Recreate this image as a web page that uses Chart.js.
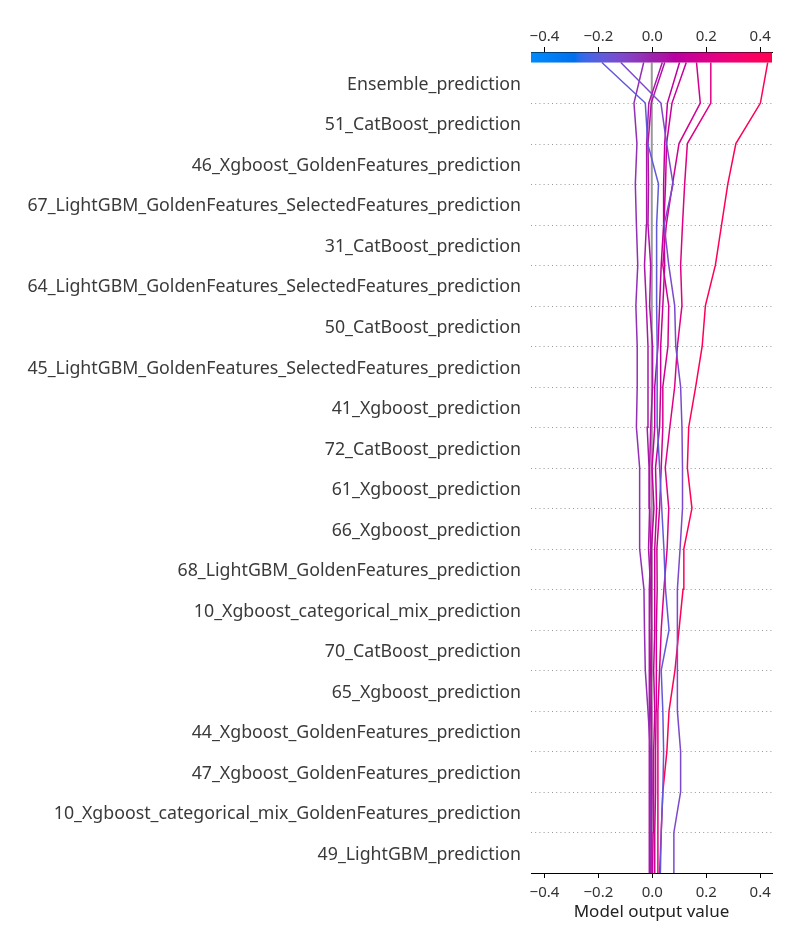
<!DOCTYPE html>
<html>
<head>
<meta charset="utf-8">
<script src="https://cdn.jsdelivr.net/npm/chart.js@4/dist/chart.umd.min.js"></script>
<style>
  html, body { margin: 0; padding: 0; background: #ffffff; }
  canvas { display: block; }
</style>
</head>
<body>
<canvas id="c" width="800" height="950"></canvas>
<script>
// Feature names, top to bottom
const featureNames = [
  'Ensemble_prediction',
  '51_CatBoost_prediction',
  '46_Xgboost_GoldenFeatures_prediction',
  '67_LightGBM_GoldenFeatures_SelectedFeatures_prediction',
  '31_CatBoost_prediction',
  '64_LightGBM_GoldenFeatures_SelectedFeatures_prediction',
  '50_CatBoost_prediction',
  '45_LightGBM_GoldenFeatures_SelectedFeatures_prediction',
  '41_Xgboost_prediction',
  '72_CatBoost_prediction',
  '61_Xgboost_prediction',
  '66_Xgboost_prediction',
  '68_LightGBM_GoldenFeatures_prediction',
  '10_Xgboost_categorical_mix_prediction',
  '70_CatBoost_prediction',
  '65_Xgboost_prediction',
  '44_Xgboost_GoldenFeatures_prediction',
  '47_Xgboost_GoldenFeatures_prediction',
  '10_Xgboost_categorical_mix_GoldenFeatures_prediction',
  '49_LightGBM_prediction'
];

// Cumulative model output per observation, from the bottom level (0) to the top level (20)
const obsA = [0.030,0.033,0.039,0.042,0.039,0.033,0.062,0.049,0.043,0.035,0.027,0.019,0.018,0.018,0.016,0.016,0.016,0.023,-0.017,-0.026,-0.187];
const obsB = [0.077,0.080,0.105,0.105,0.093,0.093,0.093,0.093,0.103,0.112,0.112,0.110,0.105,0.087,0.083,0.061,0.044,0.077,0.053,0.032,-0.117];
const obsC = [-0.004,-0.007,-0.007,-0.007,-0.016,-0.026,-0.029,-0.031,-0.047,-0.047,-0.047,-0.059,-0.056,-0.056,-0.061,-0.054,-0.059,-0.063,-0.057,-0.068,-0.032];
const obsD = [-0.004,-0.003,-0.001,-0.003,-0.006,-0.003,-0.003,-0.006,-0.014,-0.010,-0.012,-0.019,-0.016,-0.016,-0.022,-0.029,-0.022,-0.021,-0.021,-0.013,0.037];
const obsE = [-0.010,-0.010,-0.012,-0.012,-0.010,-0.012,-0.010,-0.012,-0.006,-0.010,-0.010,-0.006,0.001,0.001,-0.010,-0.006,-0.016,-0.014,-0.016,-0.004,0.046];
const obsF = [-0.006,-0.006,-0.004,-0.003,-0.003,-0.006,-0.004,-0.003,-0.003,0.006,-0.001,0.009,0.009,0.021,0.027,0.033,0.042,0.042,0.046,0.056,0.101];
const obsG = [0.001,0.003,0.005,0.005,0.009,0.005,0.009,0.009,0.009,0.016,0.012,0.027,0.031,0.031,0.039,0.046,0.043,0.049,0.053,0.073,0.126];
const obsH = [0.009,0.009,0.012,0.012,0.014,0.016,0.014,0.018,0.017,0.027,0.033,0.039,0.039,0.058,0.061,0.039,0.052,0.075,0.099,0.178,0.164];
const obsI = [0.020,0.020,0.021,0.021,0.021,0.027,0.033,0.043,0.055,0.061,0.048,0.065,0.083,0.093,0.110,0.105,0.112,0.120,0.130,0.217,0.217];
const obsJ = [0.027,0.033,0.039,0.054,0.062,0.084,0.099,0.114,0.117,0.147,0.130,0.135,0.161,0.185,0.197,0.234,0.257,0.280,0.310,0.401,0.428];
const observations = [obsA, obsB, obsC, obsD, obsE, obsF, obsG, obsH, obsI, obsJ];

const baseValue = -0.002;
const xTicks = [-0.4, -0.2, 0.0, 0.2, 0.4];
const xMin = -0.45, xMax = 0.444;
const yMax = 20.26; // extra room above the last level for the colour bar

// SHAP "red_blue" colormap built in LCH space
function lch2rgb(L, C, H) {
  const a = C * Math.cos(H), b = C * Math.sin(H);
  const fy = (L + 16) / 116, fx = a / 500 + fy, fz = fy - b / 200;
  const f = t => (t > 0.2068966 ? t * t * t : (t - 16 / 116) / 7.787);
  const X = 0.95047 * f(fx), Y = 1.0 * f(fy), Z = 1.08883 * f(fz);
  let r = 3.2404542 * X - 1.5371385 * Y - 0.4985314 * Z;
  let g = -0.9692660 * X + 1.8760108 * Y + 0.0415560 * Z;
  let bb = 0.0556434 * X - 0.2040259 * Y + 1.0572252 * Z;
  const gam = c => (c > 0.0031308 ? 1.055 * Math.pow(c, 1 / 2.4) - 0.055 : 12.92 * c);
  return [r, g, bb].map(c => Math.min(1, Math.max(0, gam(c))));
}
const cmap = (() => {
  const n = 100, out = [];
  const blue = [54, 70, 4.6588], red = [54, 90, 0.35470565 + 2 * Math.PI], lMid = 40;
  for (let i = 0; i < n; i++) {
    const half = n / 2;
    const l = i < half ? blue[0] + (lMid - blue[0]) * (i / (half - 1))
                       : lMid + (red[0] - lMid) * ((i - half) / (half - 1));
    const c = blue[1] + (red[1] - blue[1]) * (i / (n - 1));
    const h = blue[2] + (red[2] - blue[2]) * (i / (n - 1));
    out.push(lch2rgb(l, c, h));
  }
  return out;
})();
function cmapColor(t) {
  t = Math.min(1, Math.max(0, t));
  const p = t * (cmap.length - 1), i = Math.floor(p), fr = p - i;
  const a = cmap[i], b = cmap[Math.min(cmap.length - 1, i + 1)];
  const c = a.map((v, k) => Math.round(255 * (v + (b[k] - v) * fr)));
  return `rgb(${c[0]},${c[1]},${c[2]})`;
}
function valueColor(v) { return cmapColor((v - xMin) / (xMax - xMin)); }

const datasets = observations.map(obs => ({
  data: obs.map((v, k) => ({ x: v, y: k })),
  showLine: true,
  borderColor: valueColor(obs[obs.length - 1]),
  backgroundColor: valueColor(obs[obs.length - 1]),
  borderWidth: 1.5,
  pointRadius: 0,
  tension: 0
}));

const fmt = v => (v < 0 ? '\u2212' : '') + Math.abs(v).toFixed(1);

const decorPlugin = {
  id: 'decor',
  beforeDatasetsDraw(chart) {
    const { ctx, chartArea } = chart;
    const xs = chart.scales.x, ys = chart.scales.y;
    ctx.save();
    // dotted level lines
    ctx.strokeStyle = '#999999';
    ctx.lineWidth = 1;
    ctx.setLineDash([1, 3.2]);
    for (let k = 1; k < featureNames.length; k++) {
      const y = Math.round(ys.getPixelForValue(k)) + 0.5;
      ctx.beginPath();
      ctx.moveTo(chartArea.left, y);
      ctx.lineTo(chartArea.right, y);
      ctx.stroke();
    }
    ctx.setLineDash([]);
    // base value line
    const bx = xs.getPixelForValue(baseValue);
    ctx.strokeStyle = '#999999';
    ctx.lineWidth = 2;
    ctx.beginPath();
    ctx.moveTo(bx, ys.getPixelForValue(0));
    ctx.lineTo(bx, ys.getPixelForValue(featureNames.length));
    ctx.stroke();
    // colour bar
    const top = chartArea.top + 0.5, bot = ys.getPixelForValue(featureNames.length);
    const grad = ctx.createLinearGradient(chartArea.left, 0, chartArea.right, 0);
    cmap.forEach((c, i) => grad.addColorStop(i / (cmap.length - 1),
      `rgb(${Math.round(c[0]*255)},${Math.round(c[1]*255)},${Math.round(c[2]*255)})`));
    ctx.fillStyle = grad;
    ctx.fillRect(chartArea.left, top, chartArea.right - chartArea.left, bot - top);
    ctx.restore();
  }
};

Chart.defaults.font.family = "'Noto Sans', 'Open Sans', sans-serif";

new Chart(document.getElementById('c'), {
  type: 'scatter',
  data: { datasets },
  options: {
    responsive: false,
    animation: false,
    layout: { padding: { left: 0, right: 28, top: 0, bottom: 0 } },
    plugins: { legend: { display: false }, tooltip: { enabled: false } },
    scales: {
      x: {
        type: 'linear', position: 'bottom', min: xMin, max: xMax,
        afterBuildTicks: s => { s.ticks = xTicks.map(v => ({ value: v })); },
        afterFit: s => { s.height = 77; },
        ticks: { callback: v => fmt(v), color: '#333333', font: { size: 15 }, padding: 6, maxRotation: 0 },
        grid: { drawOnChartArea: false, tickLength: 5, color: '#000000' },
        border: { display: true, color: '#000000', width: 1 },
        title: { display: true, text: 'Model output value', color: '#222222', font: { size: 17 }, padding: { top: 0, bottom: 28 } }
      },
      x2: {
        type: 'linear', position: 'top', min: xMin, max: xMax,
        afterBuildTicks: s => { s.ticks = xTicks.map(v => ({ value: v })); },
        afterFit: s => { s.height = 52; },
        ticks: { callback: v => fmt(v), color: '#333333', font: { size: 15 }, padding: 1, maxRotation: 0 },
        grid: { drawOnChartArea: false, tickLength: 5, color: '#000000' },
        border: { display: true, color: '#000000', width: 1 }
      },
      y: {
        type: 'linear', min: 0, max: yMax,
        afterBuildTicks: s => { s.ticks = featureNames.map((n, i) => ({ value: featureNames.length - 1 - i + 0.5 })); },
        afterFit: s => { s.width = 531; },
        ticks: {
          callback: v => featureNames[featureNames.length - 1 - Math.floor(v)],
          color: '#3a3a3a', font: { size: 17.75 }, padding: 2, labelOffset: 2, autoSkip: false
        },
        grid: { display: false },
        border: { display: false }
      }
    }
  },
  plugins: [decorPlugin]
});
</script>
</body>
</html>
